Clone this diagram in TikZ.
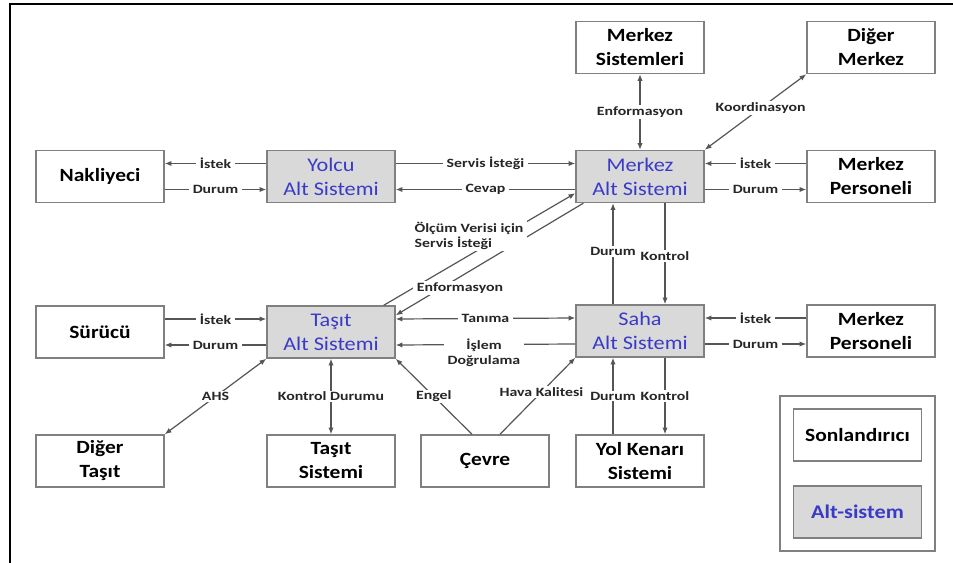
\documentclass[tikz,border=0pt]{standalone}
\usepackage{fontspec}
\setmainfont[FakeStretch=1.15]{Carlito}
\newfontfamily\lblfont[FakeStretch=1.25]{Carlito}
\usetikzlibrary{arrows.meta}

\definecolor{linegray}{RGB}{85,85,85}
\definecolor{boxgray}{RGB}{128,128,128}
\definecolor{altfill}{RGB}{217,217,217}
\definecolor{altblue}{RGB}{58,58,200}
\newlength{\pxu}\setlength{\pxu}{0.75pt}

\tikzset{
  term/.style={draw=boxgray, line width=1.5\pxu, fill=white, minimum width=128\pxu,
    minimum height=52\pxu, inner sep=0pt, align=center,
    font=\fontsize{14}{18}\selectfont\bfseries},
  alt/.style={term, fill=altfill, text=altblue, font=\fontsize{14.5}{18}\selectfont},
  lbl/.style={fill=white, inner xsep=3pt, inner ysep=1pt, text=black!85,
    font=\lblfont\fontsize{9.5}{11}\selectfont\bfseries},
  vlbl/.style={lbl, inner xsep=0.5pt},
  flow/.style={draw=linegray, line width=1.2\pxu, -{Latex[length=5pt,width=4pt]}},
  dflow/.style={flow, {Latex[length=5pt,width=4pt]}-{Latex[length=5pt,width=4pt]}}
}

\begin{document}
\begin{tikzpicture}[x=0.75pt, y=-0.75pt]
    \useasboundingbox (0,0) rectangle (953,563);
    \draw[line width=1.5\pxu] (10,563) -- (10,4) -- (953,4);

    \node[term] (nak) at (100,176.5) {Nakliyeci};
    \node[alt] (yolcu) at (331,176.5) {Yolcu\\Alt Sistemi};
    \node[alt] (merkez) at (640,176.5) {Merkez\\Alt Sistemi};
    \node[term] (msis) at (640,47.5) {Merkez\\Sistemleri};
    \node[term] (dmerkez) at (871,47.5) {Diğer\\Merkez};
    \node[term] (mper1) at (871,176.5) {Merkez\\Personeli};
    \node[term] (surucu) at (100,332) {Sürücü};
    \node[alt] (tasit) at (331,332) {Taşıt\\Alt Sistemi};
    \node[alt] (saha) at (640,331) {Saha\\Alt Sistemi};
    \node[term] (mper2) at (871,331) {Merkez\\Personeli};
    \node[term] (dtasit) at (100,461) {Diğer\\Taşıt};
    \node[term] (tsis) at (331,461) {Taşıt\\Sistemi};
    \node[term] (cevre) at (485,461) {Çevre};
    \node[term] (yolk) at (640,461) {Yol Kenarı\\Sistemi};

    % legend
    \node[draw=boxgray, line width=1.5\pxu, minimum width=155\pxu, minimum height=155\pxu] (leg) at (857.5,473.5) {};
    \node[term] (legterm) at (857.5,435) {Sonlandırıcı};
    \node[alt, font=\fontsize{14.5}{18}\selectfont\bfseries] (legalt) at (857.5,512) {Alt-sistem};

    % row 1
    \draw[flow] ([yshift=13\pxu]yolcu.west) -- node[lbl]{İstek} ([yshift=13\pxu]nak.east);
    \draw[flow] ([yshift=-13\pxu]nak.east) -- node[lbl]{Durum} ([yshift=-13\pxu]yolcu.west);
    \draw[flow] ([yshift=13\pxu]yolcu.east) -- node[lbl]{Servis İsteği} ([yshift=13\pxu]merkez.west);
    \draw[flow] ([yshift=-13\pxu]merkez.west) -- node[lbl]{Cevap} ([yshift=-13\pxu]yolcu.east);
    \draw[dflow] (merkez.north) -- node[lbl]{Enformasyon} (msis.south);
    \draw[dflow] (merkez.north east) -- node[lbl, pos=0.55]{Koordinasyon} (dmerkez.south west);
    \draw[flow] ([yshift=13\pxu]mper1.west) -- node[lbl]{İstek} ([yshift=13\pxu]merkez.east);
    \draw[flow] ([yshift=-13\pxu]merkez.east) -- node[lbl]{Durum} ([yshift=-13\pxu]mper1.west);

    % diagonals
    \draw[flow] ([xshift=-12\pxu]tasit.north east) -- ([yshift=10\pxu]merkez.south west);
    \draw[flow] ([xshift=8\pxu]merkez.south west) -- ([yshift=-10\pxu]tasit.north east);
    \node[lbl, align=left] (olcum) at (469,236) {Ölçüm Verisi için\\Servis İsteği};
    \node[lbl] (enf2) at (460,288) {Enformasyon};

    % row 2
    \draw[flow] ([yshift=13\pxu]surucu.east) -- node[lbl]{İstek} ([yshift=13\pxu]tasit.west);
    \draw[flow] ([yshift=-13\pxu]tasit.west) -- node[lbl]{Durum} ([yshift=-13\pxu]surucu.east);
    \draw[dflow] ([yshift=13\pxu]tasit.east) -- node[lbl]{Tanıma} ([yshift=13\pxu]saha.west);
    \draw[flow] ([yshift=-13\pxu]saha.west) -- ([yshift=-13\pxu]tasit.east);
    \node[lbl, align=center] (islem) at (484,353) {İşlem\\Doğrulama};
    \draw[flow] ([xshift=-27\pxu]saha.north) -- node[vlbl, pos=0.52]{Durum} ([xshift=-27\pxu]merkez.south);
    \draw[flow] ([xshift=25\pxu]merkez.south) -- node[vlbl, pos=0.52]{Kontrol} ([xshift=25\pxu]saha.north);
    \draw[flow] ([yshift=13\pxu]mper2.west) -- node[lbl]{İstek} ([yshift=13\pxu]saha.east);
    \draw[flow] ([yshift=-13\pxu]saha.east) -- node[lbl]{Durum} ([yshift=-13\pxu]mper2.west);

    % row 3
    \draw[dflow] (tasit.south west) -- node[lbl]{AHS} (dtasit.north east);
    \draw[dflow] (tasit.south) -- node[lbl]{Kontrol Durumu} (tsis.north);
    \draw[flow] ([xshift=-13\pxu]cevre.north) -- node[lbl]{Engel} (tasit.south east);
    \draw[flow] ([xshift=15\pxu]cevre.north) -- node[lbl, pos=0.55]{Hava Kalitesi} (saha.south west);
    \draw[flow] ([xshift=-27\pxu]yolk.north) -- node[vlbl]{Durum} ([xshift=-27\pxu]saha.south);
    \draw[flow] ([xshift=25\pxu]saha.south) -- node[vlbl]{Kontrol} ([xshift=25\pxu]yolk.north);
\end{tikzpicture}
\end{document}
